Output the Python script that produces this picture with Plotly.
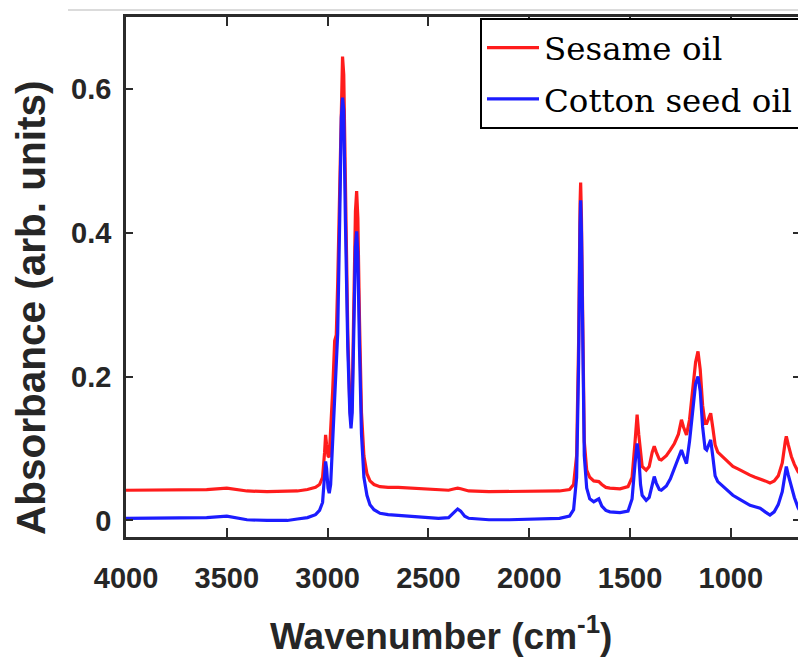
import plotly.graph_objects as go

# Wavenumber (cm^-1)
wavenumber = [4000, 3900, 3800, 3700, 3600, 3500, 3450, 3400, 3300, 3200, 3150, 3100, 3060, 3040,
              3025, 3015, 3010, 3005, 2998, 2992, 2985, 2975, 2965, 2957, 2950, 2940, 2932, 2926,
              2920, 2912, 2900, 2890, 2884, 2878, 2870, 2862, 2856, 2850, 2842, 2832, 2820, 2805,
              2790, 2770, 2740, 2700, 2650, 2600, 2550, 2500, 2450, 2400, 2370, 2355, 2340, 2320,
              2300, 2200, 2100, 2000, 1900, 1850, 1800, 1780, 1765, 1755, 1748, 1745, 1741, 1735,
              1727, 1715, 1700, 1680, 1655, 1640, 1620, 1600, 1550, 1510, 1490, 1475, 1465, 1457,
              1448, 1440, 1420, 1405, 1390, 1380, 1370, 1355, 1345, 1320, 1300, 1280, 1260, 1245,
              1235, 1220, 1205, 1190, 1175, 1163, 1152, 1140, 1128, 1120, 1110, 1100, 1090, 1078,
              1065, 1040, 1020, 990, 960, 930, 905, 880, 855, 830, 806, 785, 765, 745, 730, 725,
              715, 700, 685, 667, 650]

sesame_oil = [0.042, 0.042, 0.043, 0.042, 0.043, 0.045, 0.043, 0.041, 0.040, 0.040, 0.041, 0.043, 0.046, 0.050,
              0.060, 0.095, 0.119, 0.105, 0.090, 0.088, 0.120, 0.180, 0.250, 0.258, 0.330, 0.480, 0.610, 0.645,
              0.620, 0.460, 0.260, 0.160, 0.135, 0.170, 0.300, 0.430, 0.458, 0.420, 0.280, 0.150, 0.090, 0.065,
              0.055, 0.050, 0.047, 0.046, 0.046, 0.045, 0.044, 0.043, 0.042, 0.042, 0.044, 0.045, 0.044, 0.042,
              0.041, 0.040, 0.040, 0.040, 0.040, 0.041, 0.043, 0.050, 0.090, 0.250, 0.440, 0.470, 0.420, 0.250,
              0.110, 0.070, 0.060, 0.055, 0.054, 0.050, 0.046, 0.045, 0.044, 0.047, 0.060, 0.110, 0.147, 0.120,
              0.090, 0.075, 0.070, 0.075, 0.095, 0.103, 0.095, 0.085, 0.084, 0.090, 0.098, 0.107, 0.120, 0.140,
              0.130, 0.119, 0.140, 0.180, 0.220, 0.235, 0.210, 0.160, 0.135, 0.135, 0.142, 0.149, 0.130, 0.105,
              0.095, 0.088, 0.082, 0.075, 0.071, 0.066, 0.063, 0.060, 0.058, 0.055, 0.052, 0.055, 0.062, 0.080, 0.110, 0.117,
              0.105, 0.089, 0.078, 0.068, 0.062]

cotton_seed_oil = [0.003, 0.003, 0.004, 0.003, 0.004, 0.006, 0.003, 0.001, 0.000, 0.000, 0.002, 0.004, 0.008, 0.014,
                   0.025, 0.060, 0.082, 0.072, 0.045, 0.038, 0.050, 0.110, 0.180, 0.209, 0.260, 0.420, 0.560, 0.588,
                   0.570, 0.420, 0.240, 0.150, 0.128, 0.150, 0.270, 0.380, 0.402, 0.370, 0.240, 0.120, 0.060, 0.035,
                   0.022, 0.015, 0.010, 0.008, 0.007, 0.006, 0.004, 0.003, 0.003, 0.004, 0.012, 0.016, 0.013, 0.006,
                   0.003, 0.001, 0.001, 0.002, 0.002, 0.003, 0.006, 0.015, 0.060, 0.220, 0.410, 0.445, 0.400, 0.230,
                   0.090, 0.045, 0.030, 0.026, 0.030, 0.020, 0.014, 0.012, 0.011, 0.013, 0.030, 0.080, 0.107, 0.090,
                   0.050, 0.035, 0.028, 0.032, 0.052, 0.061, 0.052, 0.043, 0.042, 0.048, 0.058, 0.073, 0.085, 0.098,
                   0.090, 0.079, 0.110, 0.150, 0.190, 0.200, 0.180, 0.130, 0.100, 0.098, 0.105, 0.112, 0.090, 0.062,
                   0.054, 0.048, 0.042, 0.035, 0.030, 0.025, 0.021, 0.019, 0.017, 0.012, 0.0075, 0.012, 0.022, 0.040, 0.070, 0.075,
                   0.063, 0.047, 0.032, 0.018, 0.010]

x_ticks = [4000, 3500, 3000, 2500, 2000, 1500, 1000]
y_ticks = [0, 0.2, 0.4, 0.6]
y_tick_text = ["0", "0.2", "0.4", "0.6"]
x_title = "Wavenumber (cm<sup>-1</sup>)"
y_title = "Absorbance (arb. units)"

axis_color = "#2b2b2b"
tick_font = dict(family="Liberation Sans, Arial", size=29, color="#262626", weight="bold")

fig = go.Figure()
fig.add_trace(go.Scatter(x=wavenumber, y=sesame_oil, mode="lines", name="Sesame oil",
                         line=dict(color="#ff1c1c", width=3.2), legendgroup="a"))
fig.add_trace(go.Scatter(x=wavenumber, y=cotton_seed_oil, mode="lines", name="Cotton seed oil",
                         line=dict(color="#1c1cff", width=3.2), legendgroup="b"))
fig.add_trace(go.Scatter(x=[None], y=[None], yaxis="y2", showlegend=False, hoverinfo="skip"))

fig.update_layout(
    width=798, height=661,
    margin=dict(l=126, r=0, t=17, b=124, autoexpand=False),
    paper_bgcolor="white", plot_bgcolor="white",
    showlegend=True,
    legend=dict(x=(480 - 126) / 672, y=(537 - 18) / 520, xanchor="left", yanchor="top",
                bordercolor="black", borderwidth=2, bgcolor="white",
                font=dict(family="DejaVu Serif", size=32.5, color="black"),
                traceorder="grouped", tracegroupgap=6, itemwidth=52),
    xaxis=dict(range=[4000, 667], tickvals=x_ticks, ticktext=[str(v) for v in x_ticks],
               ticks="inside", ticklen=9, tickwidth=2, tickcolor=axis_color,
               showline=True, linewidth=2.5, linecolor=axis_color, mirror="ticks",
               showgrid=False, zeroline=False, tickfont=tick_font, ticklabelstandoff=13),
    yaxis=dict(range=[-0.023, 0.7], tickvals=y_ticks, ticktext=y_tick_text,
               ticks="inside", ticklen=7, tickwidth=2, tickcolor=axis_color,
               showline=True, linewidth=2.5, linecolor=axis_color, mirror=False,
               showgrid=False, zeroline=False, tickfont=tick_font, ticklabelstandoff=6),
    yaxis2=dict(range=[-0.023, 0.7], overlaying="y", side="right", tickvals=y_ticks,
                ticks="inside", ticklen=5, tickwidth=2, tickcolor=axis_color,
                showline=False, showgrid=False, zeroline=False, showticklabels=False),
)

# axis titles (placed as in the reference)
fig.add_annotation(text=x_title, xref="paper", yref="paper",
                   x=(441 - 126) / 672, y=(537 - 633) / 520, xanchor="center", yanchor="middle",
                   showarrow=False,
                   font=dict(family="Liberation Sans, Arial", size=37, color="#262626", weight="bold"))
fig.add_annotation(text=y_title, xref="paper", yref="paper", textangle=-90,
                   x=(31 - 126) / 672, y=(537 - 308) / 520, xanchor="center", yanchor="middle",
                   showarrow=False,
                   font=dict(family="Liberation Sans, Arial", size=40.5, color="#262626", weight="bold"))

# thin grey separator line above the frame
fig.add_shape(type="line", xref="paper", yref="paper",
              x0=(68 - 126) / 672, x1=1.0, y0=(537 - 10) / 520, y1=(537 - 10) / 520,
              line=dict(color="#cfcfcf", width=1.5))

fig.write_html("out.html")
